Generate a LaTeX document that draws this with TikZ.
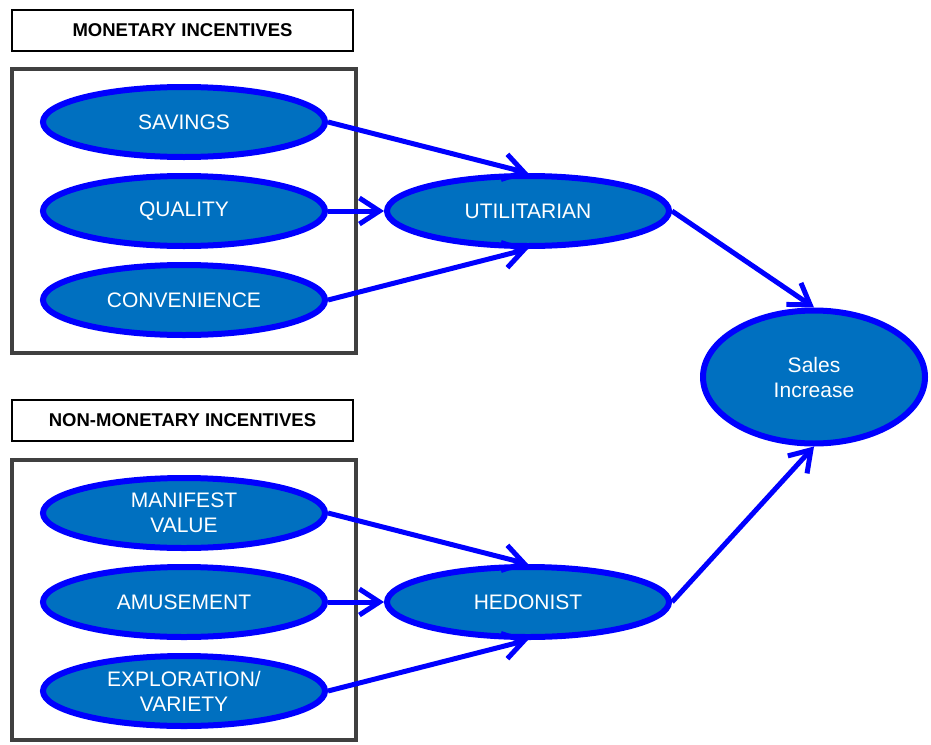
\documentclass[tikz,border=0pt]{standalone}
\usepackage{fontspec}
\setmainfont{Liberation Sans}
\usetikzlibrary{shapes.geometric,arrows.meta,positioning}

\definecolor{fillblue}{HTML}{0070C0}
\definecolor{edgeblue}{HTML}{0000FF}
\definecolor{framegray}{HTML}{404040}

\tikzset{
  incentive/.style={ellipse, draw=edgeblue, fill=fillblue, line width=6pt,
    minimum width=282pt, minimum height=70pt, inner sep=0pt, text=white,
    align=center, font=\fontsize{21}{25}\selectfont},
  header/.style={draw=black, line width=2pt, minimum width=341pt,
    minimum height=41pt, font=\bfseries\fontsize{18.5}{22}\selectfont},
  frame/.style={draw=framegray, line width=4pt},
  link/.style={draw=edgeblue, line width=5pt,
    -{Straight Barb[length=20pt,width=26pt]}}
}

\begin{document}
\begin{tikzpicture}[x=1pt,y=-1pt]
    \useasboundingbox (0,0) rectangle (931,744);
    % Monetary
    \node[header] (mhead) at (182.5,30.5) {MONETARY INCENTIVES};
    \draw[frame] (12,69) rectangle (356,353);
    \node[incentive] (savings) at (184,122) {SAVINGS};
    \node[incentive, below=13pt of savings] (quality) {QUALITY};
    \node[incentive, below=13pt of quality] (convenience) {CONVENIENCE};
    % Non-monetary
    \node[header] (nhead) at (182.5,420.5) {NON-MONETARY INCENTIVES};
    \draw[frame] (12,460) rectangle (356,740);
    \node[incentive] (manifest) at (184,513) {MANIFEST\\VALUE};
    \node[incentive, below=13pt of manifest] (amusement) {AMUSEMENT};
    \node[incentive, below=13pt of amusement] (exploration) {EXPLORATION/\\VARIETY};
    % Motives and result
    \node[incentive] (util) at (528,211) {UTILITARIAN};
    \node[incentive] (hedon) at (528,602) {HEDONIST};
    \node[incentive, minimum width=222pt, minimum height=133pt] (sales) at (814,377) {Sales\\Increase};
    % Links
    \draw[link] (savings.east) -- (util.north);
    \draw[link] (quality.east) -- (util.west);
    \draw[link] (convenience.east) -- (util.south);
    \draw[link] (manifest.east) -- (hedon.north);
    \draw[link] (amusement.east) -- (hedon.west);
    \draw[link] (exploration.east) -- (hedon.south);
    \draw[link] (util.east) -- (sales.north);
    \draw[link] (hedon.east) -- (sales.south);
\end{tikzpicture}
\end{document}
